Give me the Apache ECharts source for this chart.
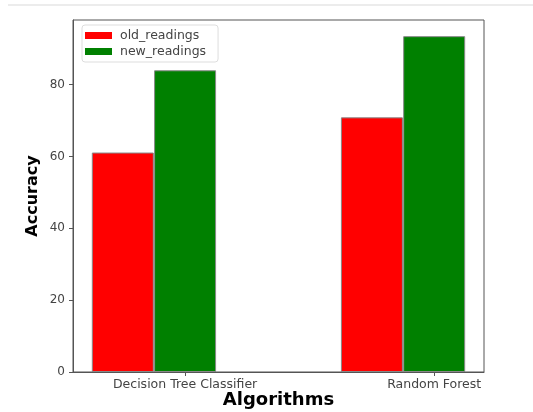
<!DOCTYPE html>
<html>
<head>
<meta charset="utf-8">
<script src="https://cdn.jsdelivr.net/npm/echarts@6/dist/echarts.min.js"></script>
<style>html,body{margin:0;padding:0;background:#fff}#c{width:533px;height:412px}</style>
</head>
<body>
<div id="c"></div>
<script>
const categories = ["Decision Tree Classifier", "Random Forest"];
const categoryPositions = [0, 1];
const groupOffset = 0.25;
const oldReadings = [61.1, 70.9];
const newReadings = [84.0, 93.5];
const yTicks = [0, 20, 40, 60, 80];

const font = "DejaVu Sans";
const chart = echarts.init(document.getElementById('c'));
const labelPos = categoryPositions.map(p => p + groupOffset);
chart.setOption({
  animation: false,
  textStyle: { fontFamily: font },
  graphic: [{ type: 'line', shape: { x1: 8, y1: 5, x2: 533, y2: 5 }, style: { stroke: '#ececec', lineWidth: 2 } }],
  grid: { left: 73, right: 49, top: 20, bottom: 40, show: true, borderColor: '#555', borderWidth: 1, outerBoundsMode: 'none', containLabel: false },
  legend: {
    left: 82, top: 25, orient: 'vertical', itemWidth: 27, itemHeight: 7, itemGap: 3, icon: 'rect',
    padding: [4, 12, 4, 3], borderColor: '#ddd', borderWidth: 1, borderRadius: 3,
    itemStyle: { borderWidth: 0 },
    textStyle: { fontSize: 12.5, color: '#444', fontFamily: font, padding: [0, 0, 0, 3] },
    data: ['old_readings', 'new_readings']
  },
  xAxis: {
    type: 'value', min: -0.2, max: 1.45,
    name: 'Algorithms', nameLocation: 'middle', nameGap: 19, nameMoveOverlap: false,
    nameTextStyle: { fontSize: 18, fontWeight: 'bold', color: '#000', fontFamily: font },
    splitLine: { show: false },
    axisLine: { show: true, onZero: false, lineStyle: { color: '#555' } },
    axisTick: { show: true, length: 4, lineStyle: { color: '#555' }, customValues: labelPos },
    axisLabel: {
      customValues: labelPos, fontSize: 12.5, color: '#444', margin: 6,
      formatter: v => { const i = labelPos.findIndex(p => Math.abs(p - v) < 1e-6); return i >= 0 ? categories[i] : ''; }
    }
  },
  yAxis: {
    type: 'value', min: 0, max: 98,
    name: 'Accuracy', nameLocation: 'middle', nameGap: 32, nameMoveOverlap: false,
    nameTextStyle: { fontSize: 16, fontWeight: 'bold', color: '#000', fontFamily: font },
    splitLine: { show: false },
    axisLine: { show: true, onZero: false, lineStyle: { color: '#555' } },
    axisTick: { show: true, length: 4, lineStyle: { color: '#555' }, customValues: yTicks },
    axisLabel: { customValues: yTicks, fontSize: 12, color: '#444', margin: 8 }
  },
  series: [
    {
      name: 'old_readings', type: 'bar', barWidth: 62, barGap: '-100%',
      itemStyle: { color: '#ff0000', borderColor: '#888', borderWidth: 1 },
      data: categoryPositions.map((p, i) => [p, oldReadings[i]])
    },
    {
      name: 'new_readings', type: 'bar', barWidth: 62, barGap: '-100%',
      itemStyle: { color: '#008000', borderColor: '#888', borderWidth: 1 },
      data: categoryPositions.map((p, i) => [p + groupOffset, newReadings[i]])
    }
  ]
});
</script>
</body>
</html>
